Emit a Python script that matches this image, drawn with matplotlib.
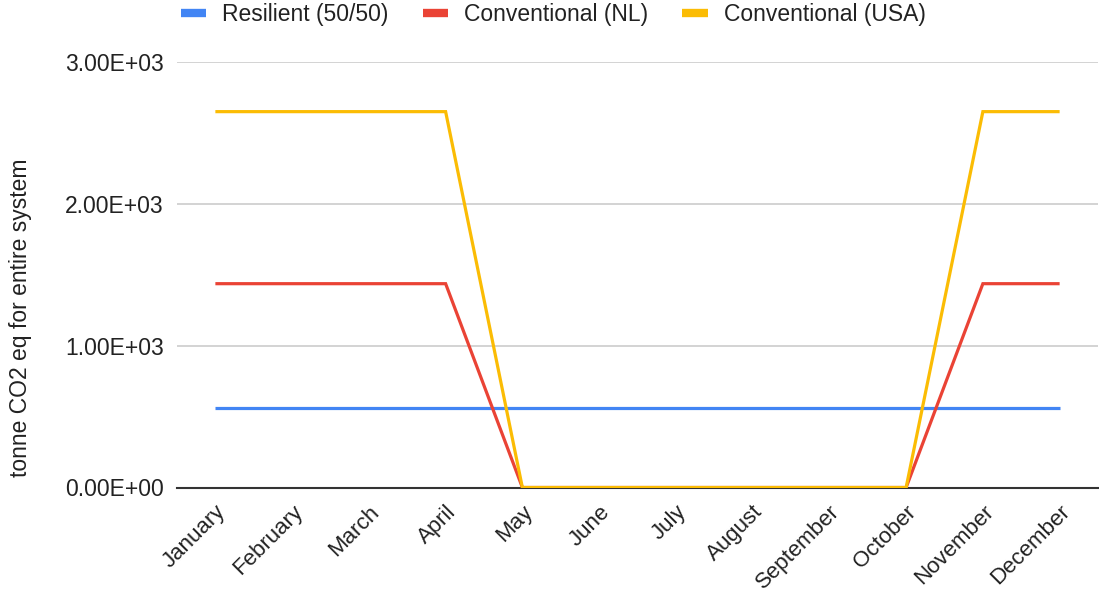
import matplotlib
matplotlib.use("Agg")
import matplotlib.pyplot as plt
from matplotlib.lines import Line2D

months = ["January", "February", "March", "April", "May", "June", "July",
          "August", "September", "October", "November", "December"]
resilient = [558, 558, 558, 558, 558, 558, 558, 558, 558, 558, 558, 558]
conventional_nl = [1437, 1437, 1437, 1437, 0, 0, 0, 0, 0, 0, 1437, 1437]
conventional_usa = [2650, 2650, 2650, 2650, 0, 0, 0, 0, 0, 0, 2650, 2650]

series_names = ["Resilient (50/50)", "Conventional (NL)", "Conventional (USA)"]
series_colors = ["#4285F4", "#EA4335", "#FBBC04"]
yticks = [0, 1000, 2000, 3000]
ytick_labels = ["0.00E+00", "1.00E+03", "2.00E+03", "3.00E+03"]

plt.rcParams["font.family"] = ["Liberation Sans", "DejaVu Sans"]

fig = plt.figure(figsize=(10.99, 5.93), dpi=100)
ax = fig.add_axes([177 / 1099, 1 - 487.5 / 593, 921 / 1099, (487.5 - 62) / 593])

x = list(range(len(months)))
for vals, name, col in zip([resilient, conventional_nl, conventional_usa],
                           series_names, series_colors):
    ax.plot(x, vals, color=col, lw=2.3, label=name, solid_joinstyle="miter",
            solid_capstyle="butt", zorder=3)

ax.set_xlim(-0.5, len(months) - 0.5)
ax.set_ylim(0, 3000)
ax.set_yticks(yticks)
ax.set_yticklabels(ytick_labels, fontsize=16.5, color="#222222")
ax.set_xticks(x)
ax.set_xticklabels(months, rotation=45, ha="right", rotation_mode="anchor",
                   fontsize=16, color="#222222")
ax.tick_params(axis="both", length=0)
ax.tick_params(axis="y", pad=9.5)
ax.tick_params(axis="x", pad=10)

ax.grid(axis="y", color="#cccccc", lw=1.2, zorder=0)
for s in ["top", "right", "left"]:
    ax.spines[s].set_visible(False)
ax.spines["bottom"].set_color("#333333")
ax.spines["bottom"].set_linewidth(1.5)
ax.spines["bottom"].set_zorder(2)

ax.set_ylabel("tonne CO2 eq for entire system", fontsize=16.5, color="#222222")
ax.yaxis.set_label_coords(-(177 - 32) / 921, (487.5 - 318) / 425.5)

handles = [Line2D([0], [0], color=c, lw=6, solid_capstyle="butt") for c in series_colors]
fig.legend(handles, series_names, loc="center", bbox_to_anchor=(553 / 1099, 1 - 15 / 593),
           ncol=3, frameon=False, fontsize=16.5, handlelength=1.1, handletextpad=0.7,
           columnspacing=1.5, labelcolor="#222222")

fig.savefig("out.png", dpi=100)
